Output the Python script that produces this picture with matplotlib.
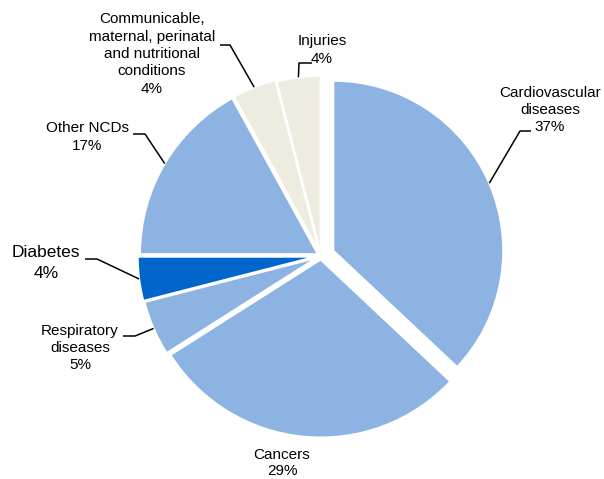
import numpy as np
import matplotlib.pyplot as plt

plt.rcParams['font.family'] = ['Liberation Sans', 'DejaVu Sans']

# data
causes = ['Cardiovascular\ndiseases', 'Cancers', 'Respiratory\ndiseases', 'Diabetes',
          'Other NCDs', 'Communicable,\nmaternal, perinatal\nand nutritional\nconditions', 'Injuries']
shares = [37, 29, 5, 4, 17, 4, 4]
colors = ['#8DB3E2', '#8DB3E2', '#8DB3E2', '#0066CC', '#8DB3E2', '#EEECE1', '#EEECE1']
explode = [0.075, 0.02, 0.025, 0.03, 0.02, 0.02, 0.012]

W, H = 604, 479
fig = plt.figure(figsize=(W / 100, H / 100), dpi=100)
ax = fig.add_axes([0, 0, 1, 1])

R = 178
cx, cy = 321, H - 256
wedges, _ = ax.pie(shares, colors=colors, explode=[e * R for e in explode], startangle=90,
                   counterclock=False, radius=R, center=(cx, cy), frame=True,
                   wedgeprops=dict(edgecolor='white', linewidth=1.5))
wedges[0].set_radius(170)
ax.set_xlim(0, W)
ax.set_ylim(0, H)
ax.axis('off')

# label layout: (text x, text y, elbow x, elbow y, end x, fontsize, linespacing), pixels from top-left
layout = [
    (550, 110, 520, 131, 531, 11, 1.3),
    (282, 463, None, None, None, 11, 1.25),
    (80, 348, 135, 336, 123, 11, 1.3),
    (46, 263, 97, 259, 85, 12.5, 1.45),
    (87, 137, 145, 134, 133, 11, 1.3),
    (152, 54, 230, 45, 220, 11, 1.3),
    (322, 50, 299, 63, 312, 11, 1.3),
]

for w, name, pct, (tx, ty, ex, ey, endx, fs, ls) in zip(wedges, causes, shares, layout):
    ax.text(tx, H - ty, f'{name}\n{pct}%', ha='center', va='center', fontsize=fs,
            linespacing=ls, color='#000000')
    if ex is None:
        continue
    ang = np.deg2rad((w.theta1 + w.theta2) / 2)
    px = w.center[0] + w.r * np.cos(ang)
    py = w.center[1] + w.r * np.sin(ang)
    ax.plot([px, ex, endx], [py, H - ey, H - ey], color='black', lw=1.1, solid_capstyle='butt')

fig.savefig('out.png', dpi=100)
